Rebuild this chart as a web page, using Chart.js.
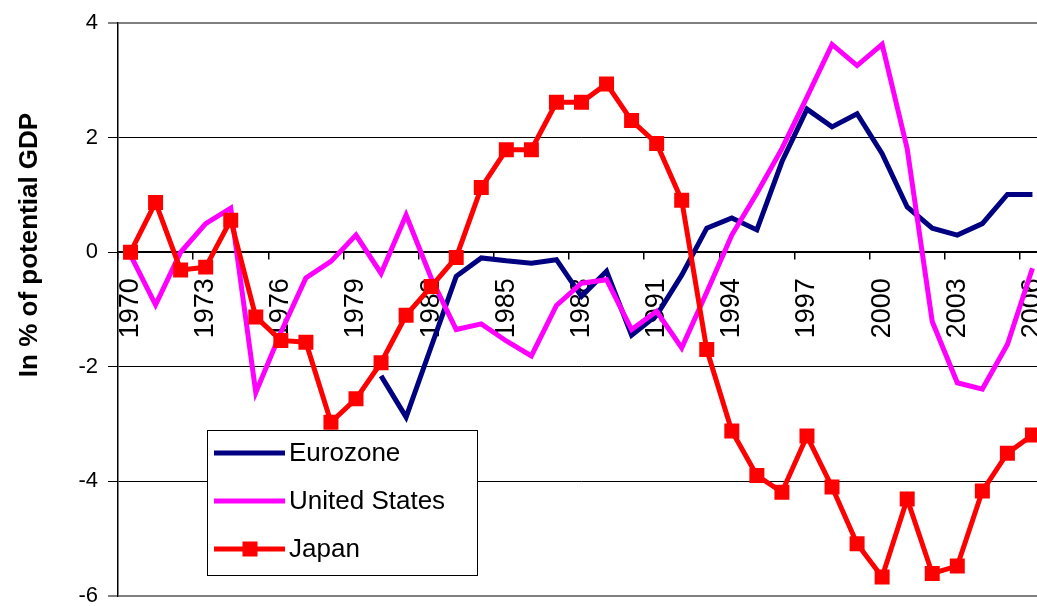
<!DOCTYPE html>
<html>
<head>
<meta charset="utf-8">
<script src="https://cdn.jsdelivr.net/npm/chart.js@4/dist/chart.umd.min.js"></script>
<style>
  html, body { margin: 0; padding: 0; background: #fff; overflow: hidden; }
  #wrap { position: relative; width: 1084px; height: 619px; }
</style>
</head>
<body>
<div id="wrap"><canvas id="chart"></canvas></div>
<script>
// Output gap, in % of potential GDP
const years = [
  '1970','1971','1972','1973','1974','1975','1976','1977','1978','1979',
  '1980','1981','1982','1983','1984','1985','1986','1987','1988','1989',
  '1990','1991','1992','1993','1994','1995','1996','1997','1998','1999',
  '2000','2001','2002','2003','2004','2005','2006'
];

const eurozone = [
  null, null, null, null, null, null, null, null, null, null,
  -2.16, -2.88, -1.65, -0.42, -0.10, -0.15, -0.19, -0.13, -0.77, -0.33,
  -1.45, -1.10, -0.40, 0.42, 0.60, 0.39, 1.58, 2.50, 2.19, 2.42,
  1.72, 0.79, 0.42, 0.30, 0.50, 1.01, 1.01
];

const unitedStates = [
  -0.05, -0.92, 0.00, 0.50, 0.77, -2.45, -1.40, -0.45, -0.16, 0.30,
  -0.37, 0.65, -0.45, -1.35, -1.25, -1.55, -1.81, -0.93, -0.54, -0.48,
  -1.35, -1.03, -1.67, -0.70, 0.30, 1.03, 1.81, 2.71, 3.63, 3.26,
  3.63, 1.81, -1.21, -2.28, -2.39, -1.61, -0.28
];

const japan = [
  0.00, 0.87, -0.31, -0.26, 0.56, -1.13, -1.54, -1.57, -2.97, -2.56,
  -1.93, -1.10, -0.60, -0.09, 1.13, 1.79, 1.79, 2.62, 2.62, 2.94,
  2.30, 1.90, 0.91, -1.70, -3.12, -3.90, -4.19, -3.21, -4.10, -5.09,
  -5.67, -4.31, -5.61, -5.48, -4.17, -3.51, -3.19
];

const seriesNames = ['Eurozone', 'United States', 'Japan'];
const yTitle = 'In % of potential GDP';

const FONT = '"Liberation Sans", Arial, Helvetica, sans-serif';
const NAVY = '#000080', MAGENTA = '#FF00FF', RED = '#FF0000';

// Boxed legend inside the plot plus the rotated axis title
const overlay = {
  id: 'overlay',
  afterDraw(chart) {
    const ctx = chart.ctx;
    ctx.save();

    // axis title
    ctx.save();
    ctx.translate(30, 245);
    ctx.rotate(-Math.PI / 2);
    ctx.font = 'bold 26px ' + FONT;
    ctx.fillStyle = '#000';
    ctx.textAlign = 'center';
    ctx.textBaseline = 'middle';
    ctx.fillText(yTitle, 0, 0);
    ctx.restore();

    // legend box
    const bx = 207, by = 430, bw = 270, bh = 145;
    ctx.fillStyle = '#fff';
    ctx.fillRect(bx, by, bw, bh);
    ctx.strokeStyle = '#000';
    ctx.lineWidth = 1;
    ctx.strokeRect(bx + 0.5, by + 0.5, bw, bh);

    const rows = [453, 501, 549];
    chart.data.datasets.forEach((ds, i) => {
      const y = rows[i];
      ctx.strokeStyle = ds.borderColor;
      ctx.lineWidth = 5;
      ctx.beginPath();
      ctx.moveTo(214, y);
      ctx.lineTo(285, y);
      ctx.stroke();
      if (ds.pointRadius > 0) {
        ctx.fillStyle = ds.borderColor;
        ctx.fillRect(250 - 7.5, y - 7.5, 15, 15);
      }
      ctx.fillStyle = '#000';
      ctx.font = '26px ' + FONT;
      ctx.textAlign = 'left';
      ctx.textBaseline = 'middle';
      ctx.fillText(ds.label, 289, y + 1);
    });
    ctx.restore();
  }
};

new Chart(document.getElementById('chart'), {
  type: 'line',
  data: {
    labels: years,
    datasets: [
      {
        label: seriesNames[0], data: eurozone, order: 3,
        borderColor: NAVY, backgroundColor: NAVY, borderWidth: 5,
        pointRadius: 0, tension: 0, borderJoinStyle: 'miter', spanGaps: false
      },
      {
        label: seriesNames[1], data: unitedStates, order: 2,
        borderColor: MAGENTA, backgroundColor: MAGENTA, borderWidth: 5,
        pointRadius: 0, tension: 0, borderJoinStyle: 'miter'
      },
      {
        label: seriesNames[2], data: japan, order: 1,
        borderColor: RED, backgroundColor: RED, borderWidth: 5,
        pointStyle: 'rect', pointRadius: 10.6, pointBorderWidth: 0,
        pointBackgroundColor: RED, tension: 0, borderJoinStyle: 'miter'
      }
    ]
  },
  options: {
    responsive: true,
    maintainAspectRatio: false,
    animation: false,
    events: [],
    layout: { padding: { left: 0, top: 19, right: 2, bottom: 10 } },
    plugins: { legend: { display: false }, tooltip: { enabled: false } },
    scales: {
      x: {
        type: 'category',
        position: { y: 0 },
        offset: true,
        z: 1,
        grid: {
          offset: true,
          drawOnChartArea: false,
          drawTicks: true,
          tickLength: 7,
          lineWidth: 1.5,
          color: (c) => (c.index % 3 === 0 ? '#000' : 'rgba(0,0,0,0)')
        },
        border: { display: true, color: '#000', width: 1.5 },
        ticks: {
          autoSkip: false,
          minRotation: 90,
          maxRotation: 90,
          padding: 19,
          color: '#000',
          font: { family: FONT, size: 27 },
          callback: (v, i) => (i % 3 === 0 ? years[i] : '')
        }
      },
      y: {
        min: -6,
        max: 4,
        afterFit: (s) => { s.width = 118; },
        grid: {
          tickLength: 10,
          color: (c) => (c.tick && (c.tick.value === 4 || c.tick.value === -6) ? '#808080' : '#000'),
          lineWidth: (c) => (c.tick && (c.tick.value === 4 || c.tick.value === -6) ? 2 : 1)
        },
        border: { display: true, color: '#000', width: 1.5 },
        ticks: {
          stepSize: 2,
          padding: 10,
          color: '#000',
          font: { family: FONT, size: 22 }
        }
      }
    }
  },
  plugins: [overlay]
});
</script>
</body>
</html>
